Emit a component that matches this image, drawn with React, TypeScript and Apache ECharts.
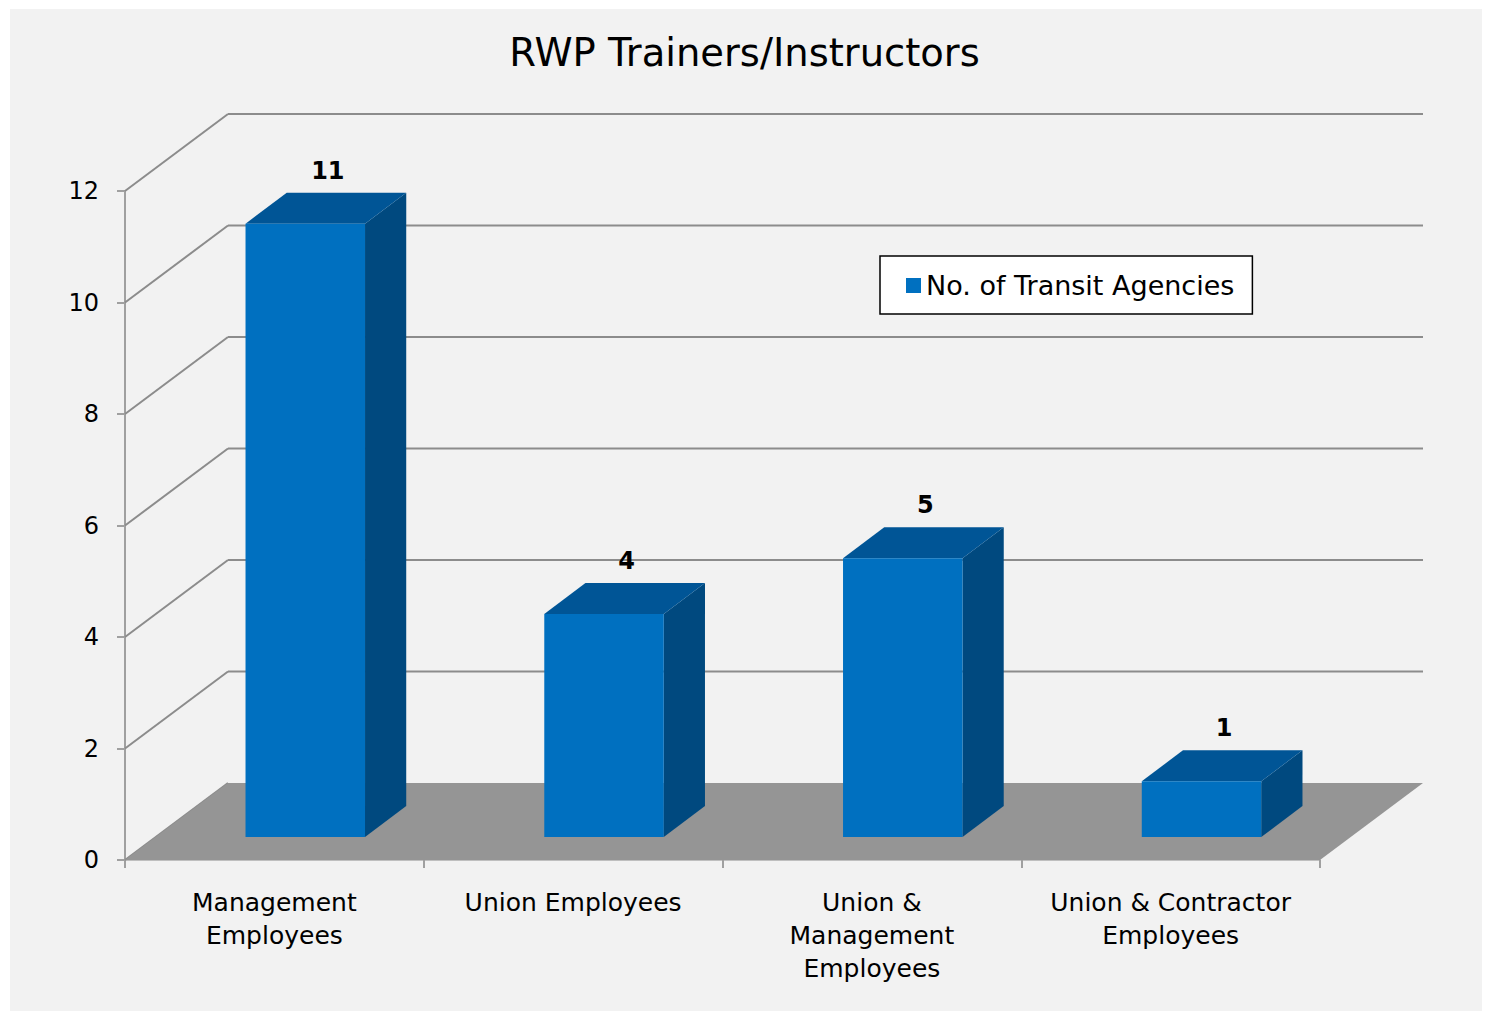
import React, { useEffect, useRef } from "react";
import * as echarts from "echarts";

const categories = [
  "Management\nEmployees",
  "Union Employees",
  "Union &\nManagement\nEmployees",
  "Union & Contractor\nEmployees",
];
const values = [11, 4, 5, 1];
const yTicks = [0, 2, 4, 6, 8, 10, 12];
const seriesName = "No. of Transit Agencies";
const titleText = "RWP Trainers/Instructors";

const FONT = "'DejaVu Sans', Verdana, sans-serif";
// projection of the chart depth
const DX = 103;
const DY = -77;
const BAR_FRONT = 0.3;
const BAR_DEPTH = 0.4;
const BAR_RATIO = 0.4;

const FRONT_COLOR = "#0070c0";
const TOP_COLOR = "#005596";
const SIDE_COLOR = "#00497f";
const GRID_COLOR = "#8c8c8c";
const FLOOR_COLOR = "#959595";

export default function App() {
  const ref = useRef<HTMLDivElement>(null);
  useEffect(() => {
    if (!ref.current) return;
    const chart = echarts.init(ref.current, null, { renderer: "svg" });
    const option: any = {
      animation: false,
      backgroundColor: "#ffffff",
      graphic: {
        elements: [
          {
            type: "rect",
            z: -10,
            silent: true,
            shape: { x: 10, y: 9, width: 1472, height: 1002 },
            style: { fill: "#f2f2f2" },
          },
        ],
      },
      title: {
        text: titleText,
        left: "center",
        top: 33,
        padding: 0,
        textStyle: {
          fontFamily: FONT,
          fontSize: 38.5,
          fontWeight: "normal",
          color: "#000",
        },
      },
      legend: {
        data: [seriesName],
        left: 880,
        top: 256,
        icon: "rect",
        itemWidth: 15,
        itemHeight: 15,
        backgroundColor: "#ffffff",
        borderColor: "#000000",
        borderWidth: 1.5,
        borderRadius: 0,
        padding: [16, 18, 15, 26],
        textStyle: { fontFamily: FONT, fontSize: 27, color: "#000" },
      },
      grid: { left: 125, right: 169, top: 191, bottom: 151 },
      xAxis: {
        type: "category",
        data: categories,
        axisLine: { show: true, lineStyle: { color: "#bfbfbf", width: 2 } },
        axisTick: { show: true, length: 8, lineStyle: { color: "#a0a0a0", width: 2 } },
        axisLabel: {
          interval: 0,
          fontFamily: FONT,
          fontSize: 25,
          lineHeight: 33,
          color: "#000",
          margin: 26,
        },
        splitLine: { show: false },
      },
      yAxis: {
        type: "value",
        min: 0,
        max: 12,
        interval: 2,
        axisLine: { show: true, lineStyle: { color: "#a0a0a0", width: 2 } },
        axisTick: { show: true, length: 8, lineStyle: { color: "#a0a0a0", width: 2 } },
        axisLabel: { fontFamily: FONT, fontSize: 24, color: "#000", margin: 26 },
        splitLine: { show: false },
      },
      series: [
        {
          type: "custom",
          name: "frame",
          z: 1,
          silent: true,
          data: yTicks.map((t) => [0, t]),
          encode: { x: 0, y: 1 },
          renderItem: (params: any, api: any) => {
            const cs = params.coordSys;
            const y = api.coord([0, api.value(1)])[1];
            const x0 = cs.x;
            const x1 = cs.x + cs.width;
            const children: any[] = [
              {
                type: "line",
                shape: { x1: x0, y1: y, x2: x0 + DX, y2: y + DY },
                style: { stroke: GRID_COLOR, lineWidth: 2 },
              },
            ];
            if (api.value(1) !== 0) {
              children.push({
                type: "line",
                shape: { x1: x0 + DX, y1: y + DY, x2: x1 + DX, y2: y + DY },
                style: { stroke: GRID_COLOR, lineWidth: 2 },
              });
            }
            return { type: "group", children };
          },
        },
        {
          type: "custom",
          name: "floor",
          z: 2,
          silent: true,
          data: [[0, 0]],
          encode: { x: 0, y: 1 },
          renderItem: (params: any, api: any) => {
            const cs = params.coordSys;
            const y = api.coord([0, 0])[1];
            const x0 = cs.x;
            const x1 = cs.x + cs.width;
            return {
              type: "polygon",
              shape: {
                points: [
                  [x0, y],
                  [x1, y],
                  [x1 + DX, y + DY],
                  [x0 + DX, y + DY],
                ],
              },
              style: { fill: FLOOR_COLOR },
            };
          },
        },
        {
          type: "custom",
          name: seriesName,
          z: 3,
          itemStyle: { color: FRONT_COLOR },
          data: values.map((v, i) => [i, v]),
          encode: { x: 0, y: 1 },
          renderItem: (params: any, api: any) => {
            const idx = api.value(0);
            const v = api.value(1);
            const topPt = api.coord([idx, v]);
            const basePt = api.coord([idx, 0]);
            const bw = api.size([1, 0])[0] * BAR_RATIO;
            const fx = BAR_FRONT * DX;
            const fy = BAR_FRONT * DY;
            const bdx = BAR_DEPTH * DX;
            const bdy = BAR_DEPTH * DY;
            const L = topPt[0] - bw / 2 + fx;
            const R = L + bw;
            const T = topPt[1] + fy;
            const B = basePt[1] + fy;
            return {
              type: "group",
              children: [
                {
                  type: "polygon",
                  shape: {
                    points: [
                      [R, T],
                      [R + bdx, T + bdy],
                      [R + bdx, B + bdy],
                      [R, B],
                    ],
                  },
                  style: { fill: SIDE_COLOR },
                },
                {
                  type: "polygon",
                  shape: {
                    points: [
                      [L, T],
                      [L + bdx, T + bdy],
                      [R + bdx, T + bdy],
                      [R, T],
                    ],
                  },
                  style: { fill: TOP_COLOR },
                },
                {
                  type: "rect",
                  shape: { x: L, y: T, width: bw, height: B - T },
                  style: { fill: FRONT_COLOR },
                },
                {
                  type: "text",
                  x: (L + R) / 2 + bdx / 2 + 2,
                  y: T + bdy - 22,
                  style: {
                    text: String(v),
                    fontFamily: FONT,
                    fontSize: 24,
                    fontWeight: "bold",
                    fill: "#000",
                    align: "center",
                    verticalAlign: "middle",
                  },
                },
              ],
            };
          },
        },
      ],
    };
    chart.setOption(option);
    return () => chart.dispose();
  }, []);
  return (
    <div
      ref={ref}
      style={{ position: "fixed", left: 0, top: 0, width: 1489, height: 1011 }}
    />
  );
}
